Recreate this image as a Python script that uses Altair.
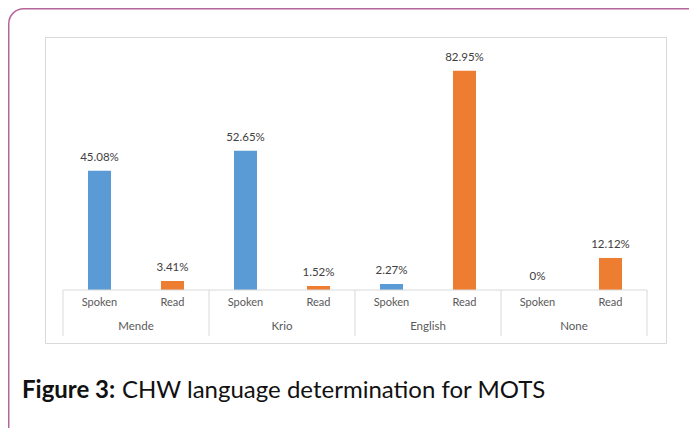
import altair as alt
import pandas as pd

groups = ["Mende", "Krio", "English", "None"]
kinds = ["Spoken", "Read"]
spoken = [45.08, 52.65, 2.27, 0.0]
read = [3.41, 1.52, 82.95, 12.12]
caption_bold = "Figure 3:"
caption_rest = "CHW language determination for MOTS"

rows = []
for gi, g in enumerate(groups):
    for ki, (k, v) in enumerate(zip(kinds, [spoken[gi], read[gi]])):
        rows.append({"group": g, "kind": k, "pos": gi * 2 + ki, "value": v,
                     "label": (f"{v:.2f}%" if v else "0%")})
df = pd.DataFrame(rows)
grp = pd.DataFrame({"group": groups, "center": [gi * 2 + 0.5 for gi in range(len(groups))]})
sep = pd.DataFrame({"b": [-0.5 + 2 * i for i in range(len(groups) + 1)]})
base_df = pd.DataFrame({"x0": [sep.b.min()], "x1": [sep.b.max()]})
one = pd.DataFrame({"k": [0]})
cap_df = pd.DataFrame({"bold": [caption_bold], "rest": [caption_rest]})

W, H = 594, 238
FONT = "Lato"
xs = alt.Scale(domain=[-0.5, 7.5], nice=False, zero=False)
ys = alt.Scale(domain=[0, 90], nice=False)

bars = alt.Chart(df).mark_bar(size=23).encode(
    x=alt.X("pos:Q", scale=xs, axis=None),
    y=alt.Y("value:Q", scale=ys, axis=None),
    color=alt.Color("kind:N", scale=alt.Scale(domain=kinds, range=["#5B9BD5", "#ED7D31"]), legend=None),
)
labels = alt.Chart(df).mark_text(dy=-13, fontSize=11.5, font=FONT, color="#404040").encode(
    x=alt.X("pos:Q", scale=xs, axis=None),
    y=alt.Y("value:Q", scale=ys, axis=None),
    text="label:N",
)
baseline = alt.Chart(base_df).mark_rule(color="#D9D9D9", strokeWidth=1).encode(
    x=alt.X("x0:Q", scale=xs, axis=None), x2="x1:Q", y=alt.value(H)
)
seps = alt.Chart(sep).mark_rule(color="#D9D9D9", strokeWidth=1).encode(
    x=alt.X("b:Q", scale=xs, axis=None), y=alt.value(H), y2=alt.value(H + 46)
)
sub = alt.Chart(df).mark_text(baseline="middle", fontSize=11, font=FONT, color="#595959").encode(
    x=alt.X("pos:Q", scale=xs, axis=None), y=alt.value(H + 13), text="kind:N"
)
grp_lab = alt.Chart(grp).mark_text(baseline="middle", fontSize=11.5, font=FONT, color="#595959").encode(
    x=alt.X("center:Q", scale=xs, axis=None), y=alt.value(H + 37), text="group:N"
)
inner = alt.Chart(one).mark_rect(filled=False, stroke="#D9D9D9", strokeWidth=1).encode(
    x=alt.value(-12.5), x2=alt.value(608.5), y=alt.value(-14.5), y2=alt.value(291.5)
)
outer = alt.Chart(one).mark_rect(filled=False, stroke="#B5679B", strokeWidth=1.5, cornerRadius=15).encode(
    x=alt.value(-49.25), x2=alt.value(647), y=alt.value(-43.25), y2=alt.value(396)
)
cap1 = alt.Chart(cap_df).mark_text(align="left", baseline="alphabetic", fontSize=24, font=FONT,
                                   fontWeight="bold", color="#111111").encode(
    x=alt.value(-36), y=alt.value(346), text="bold:N"
)
cap2 = alt.Chart(cap_df).mark_text(align="left", baseline="alphabetic", fontSize=24, font=FONT,
                                   color="#111111").encode(
    x=alt.value(64), y=alt.value(346), text="rest:N"
)

chart = alt.layer(outer, inner, bars, labels, baseline, seps, sub, grp_lab, cap1, cap2).properties(
    width=W, height=H,
    autosize=alt.AutoSizeParams(type="none"),
    padding={"left": 50, "top": 44, "right": 37, "bottom": 138},
).configure_view(stroke=None)

chart.save("out.html", embed_options={"renderer": "svg", "actions": False})
